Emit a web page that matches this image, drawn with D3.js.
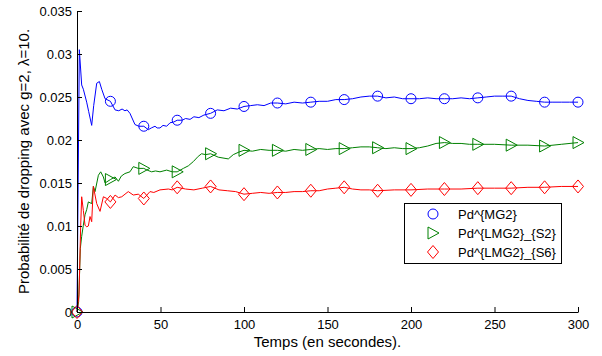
<!DOCTYPE html>
<html><head><meta charset="utf-8">
<script src="https://cdn.jsdelivr.net/npm/d3@7"></script>
<style>
body{margin:0;background:#fff;}
text{font-family:"Liberation Sans",Arial,Helvetica,sans-serif;fill:#000;}
</style></head>
<body><svg id="c" width="602" height="356"></svg>
<script>
const xTicks = [0,50,100,150,200,250,300];
const yTicks = [0,0.005,0.01,0.015,0.02,0.025,0.03,0.035];
const yTickLabels = ["0","0.005","0.01","0.015","0.02","0.025","0.03","0.035"];
const markerTimes = [0,20,40,60,80,100,120,140,160,180,200,220,240,260,280,300];
const seriesNames = ["Pd^{MG2}","Pd^{LMG2}_{S2}","Pd^{LMG2}_{S6}"];

const blueT = [0,1.4,2.8,3.8,5.8,7,8.8,10,11.8,13.4,14.8,16.8,20,22.8,25,27,28.7,30,31.7,34.7,37,40,42.7,44.5,46.7,48,49.7,51.5,53.7,55.7,58,60,63,65,67.7,70,73,76,80,84,88,92,96,100,104,108,112,116,120,125,130,135,140,145,150,155,160,165,170,175,180,185,190,195,200,205,210,215,220,225,230,235,240,245,250,255,260,265,270,275,280,285,290,295,300];
const blueV = [0,0.0305,0.0264,0.0259,0.0244,0.0233,0.0217,0.0240,0.0266,0.0268,0.0259,0.0248,0.0245,0.0235,0.0234,0.0236,0.0234,0.0235,0.0231,0.0218,0.0216,0.0216,0.0212,0.0214,0.0216,0.0214,0.0214,0.0217,0.0216,0.0220,0.0221,0.0223,0.0223,0.0225,0.0224,0.0227,0.0226,0.0229,0.0231,0.0235,0.0234,0.0237,0.0236,0.0239,0.0240,0.0241,0.0240,0.0243,0.0243,0.0242,0.0244,0.0243,0.0244,0.0245,0.0245,0.0247,0.0247,0.0248,0.0250,0.0251,0.0251,0.0249,0.0250,0.0248,0.0248,0.0248,0.0249,0.0248,0.0248,0.0248,0.0249,0.0248,0.0249,0.0250,0.0251,0.0251,0.0251,0.0248,0.0246,0.0245,0.0244,0.0244,0.0244,0.0244,0.0244];

const greenT = [0,1,2,2.8,3.8,4.8,5.8,6.8,8.8,9.8,10.8,12.8,14.2,15.8,16.8,20,22.8,24.8,26.5,28.7,31.7,33.7,36.7,40,42,44.7,47,49.7,53.7,57,60,63.7,66.7,69.7,72.6,74.6,77,80,84.6,90.6,93.6,97,100,105,110,115,120,125,130,135,140,145,150,155,160,165,170,175,180,185,190,195,200,205,210,215,220,225,230,235,240,250,260,270,280,290,300];
const greenV = [0,0.0012,0.0074,0.0088,0.0101,0.0113,0.0119,0.0128,0.0126,0.0146,0.0140,0.0159,0.0163,0.0157,0.0150,0.0154,0.0157,0.0152,0.0158,0.0161,0.0163,0.0169,0.0167,0.0167,0.0165,0.0163,0.0164,0.0163,0.0165,0.0163,0.0163,0.0167,0.0170,0.0175,0.0181,0.0184,0.0183,0.0184,0.0180,0.0178,0.0183,0.0186,0.0188,0.0187,0.0189,0.0188,0.0188,0.0187,0.0189,0.0188,0.0189,0.0190,0.0189,0.0190,0.0190,0.0191,0.0192,0.0192,0.0191,0.0190,0.0191,0.0190,0.0190,0.0191,0.0193,0.0196,0.0197,0.0196,0.0196,0.0195,0.0195,0.0195,0.0194,0.0194,0.0193,0.0195,0.0197];

const redT = [0,1.2,2.2,2.8,3.8,4.8,5.8,6.8,7.8,8.8,9.8,11.8,13.8,15.8,17.8,20,22.8,24.8,26.8,30.7,33.7,36.7,40,43.7,46,49.7,54.7,57,60,65,70,75,80,85,90,95,100,105,110,115,120,125,130,135,140,145,150,155,160,165,170,175,180,190,200,210,220,230,240,250,260,270,280,290,300];
const redV = [0,0.002,0.010,0.0134,0.0118,0.0101,0.0099,0.0100,0.0111,0.0105,0.0146,0.0126,0.0117,0.0134,0.0132,0.0128,0.0136,0.0133,0.0134,0.0140,0.0136,0.0137,0.0132,0.0140,0.0139,0.0142,0.0143,0.0142,0.0145,0.0143,0.0142,0.0144,0.0146,0.0142,0.0141,0.0140,0.0137,0.0138,0.0139,0.0138,0.0139,0.0139,0.0140,0.0140,0.0141,0.0141,0.0143,0.0144,0.0145,0.0143,0.0142,0.0142,0.0141,0.0142,0.0142,0.0143,0.0143,0.0143,0.0144,0.0144,0.0144,0.0145,0.0145,0.0146,0.0146];

const colors = ["#0000ff","#008000","#ff0000"];
const W=602,H=356, m={l:77,r:24,t:11,b:44};
const svg=d3.select("#c");
const x=d3.scaleLinear().domain([0,300]).range([m.l,W-m.r]);
const y=d3.scaleLinear().domain([0,0.035]).range([H-m.b,m.t]);

const series=[
 {t:blueT,v:blueV,c:colors[0],shape:"circle"},
 {t:greenT,v:greenV,c:colors[1],shape:"tri"},
 {t:redT,v:redV,c:colors[2],shape:"diamond"}
];
const shapePath={
 circle:"M5,0A5,5 0 1,1 -5,0A5,5 0 1,1 5,0Z",
 tri:"M-5,-6L6,0L-5,6Z",
 diamond:"M0,-6.5L5.5,0L0,6.5L-5.5,0Z"
};
const line=d3.line().x(d=>x(d[0])).y(d=>y(d[1]));

series.forEach(s=>{
  const pts=s.t.map((t,i)=>[t,s.v[i]]);
  svg.append("path").attr("d",line(pts)).attr("fill","none").attr("stroke",s.c).attr("stroke-width",1);
});
series.forEach(s=>{
  const pts=markerTimes.map(t=>[t,s.v[s.t.indexOf(t)]]);
  svg.selectAll(null).data(pts).enter().append("path")
   .attr("d",shapePath[s.shape]).attr("transform",d=>`translate(${x(d[0])},${y(d[1])})`)
   .attr("fill","none").attr("stroke",s.c).attr("stroke-width",1);
});

// axes
const xa=svg.append("g").attr("transform",`translate(0,${H-m.b})`)
 .call(d3.axisBottom(x).tickValues(xTicks).tickSizeInner(-5).tickSizeOuter(0).tickPadding(7.5).tickFormat(d3.format("d")));
const ya=svg.append("g").attr("transform",`translate(${m.l},0)`)
 .call(d3.axisLeft(y).tickValues(yTicks).tickSizeInner(-5).tickSizeOuter(0).tickPadding(5).tickFormat((d,i)=>yTickLabels[i]));
[xa,ya].forEach(a=>{
  a.selectAll("text").style("font-size","13px").attr("fill","#000");
  a.select(".domain").attr("stroke","#000");
  a.selectAll(".tick line").attr("stroke","#000");
});

svg.append("text").attr("x",(m.l+W-m.r)/2).attr("y",346.5).attr("text-anchor","middle")
  .style("font-size","15px").text("Temps (en secondes).");
svg.append("text").attr("transform",`translate(29,${(m.t+H-m.b)/2}) rotate(-90)`).attr("text-anchor","middle")
  .style("font-size","15px").text("Probabilité de dropping avec g=2, λ=10.");

// legend
const lg=svg.append("g");
lg.append("rect").attr("x",404.5).attr("y",203.5).attr("width",157).attr("height",60)
  .attr("fill","#fff").attr("stroke","#000").attr("stroke-width",1);
series.forEach((s,i)=>{
  const yy=214+i*19;
  lg.append("path").attr("d",shapePath[s.shape]).attr("transform",`translate(433,${yy})`)
    .attr("fill","none").attr("stroke",s.c);
  lg.append("text").attr("x",458).attr("y",yy+4.5).style("font-size","13px").text(seriesNames[i]);
});
</script></body></html>
